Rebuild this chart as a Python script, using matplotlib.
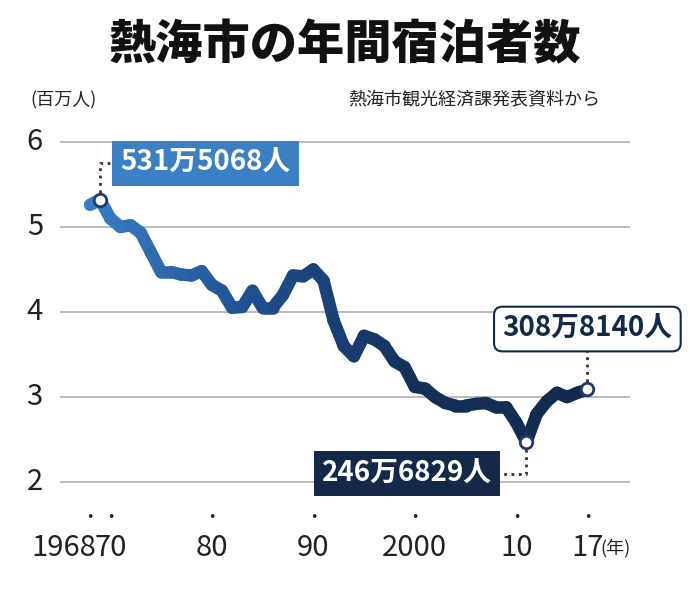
import numpy as np
import matplotlib
matplotlib.use("Agg")
import matplotlib.pyplot as plt
from matplotlib.collections import LineCollection
from matplotlib.colors import LinearSegmentedColormap
import matplotlib.transforms as mt

years = list(range(1968, 2018))
values = [5.26, 5.32, 5.10, 5.00, 5.02, 4.93, 4.70, 4.47, 4.47, 4.44, 4.43, 4.48,
          4.32, 4.25, 4.05, 4.06, 4.25, 4.05, 4.05, 4.20, 4.43, 4.42, 4.50, 4.37,
          3.90, 3.60, 3.48, 3.72, 3.68, 3.60, 3.42, 3.35, 3.12, 3.10, 3.00, 2.93,
          2.90, 2.90, 2.92, 2.93, 2.88, 2.88, 2.70, 2.47, 2.80, 2.95, 3.05, 3.00,
          3.05, 3.09]
yticks = [2, 3, 4, 5, 6]
xtick_pos = [1968, 1970, 1980, 1990, 2000, 2010, 2017]
xtick_lab = ["1968", "70", "80", "90", "2000", "10", "17"]

FONT = "Noto Sans CJK JP"
NUM = ["Liberation Sans Narrow", "Noto Sans CJK JP"]
W, H = 690, 596
fig = plt.figure(figsize=(W/100, H/100), dpi=100)
ax = fig.add_axes([60/W, 1-500/H, 570/W, 370/H])
ax.set_xlim(1965.04, 2021.2)
ax.set_ylim(1.79, 6.14)
for s in ax.spines.values():
    s.set_visible(False)
ax.set_xticks([]); ax.set_yticks([])
for y in yticks:
    ax.axhline(y, color="#b0b0b0", lw=1.2, zorder=0)
    ax.text(-0.03, y, str(y), transform=mt.blended_transform_factory(ax.transAxes, ax.transData),
            ha="right", va="center", fontsize=21, family=NUM, color="#222")

x = np.array(years, float); yv = np.array(values)
pts = np.array([x, yv]).T.reshape(-1, 1, 2)
segs = np.concatenate([pts[:-1], pts[1:]], axis=1)
cmap = LinearSegmentedColormap.from_list("g", ["#3a7cc4", "#1f4f8f", "#14305a", "#122a4e"])
lc = LineCollection(segs, cmap=cmap, linewidths=9, capstyle="round", joinstyle="round", zorder=2)
lc.set_array(np.linspace(0, 1, len(segs)))
ax.add_collection(lc)

tr = mt.blended_transform_factory(ax.transData, fig.transFigure)
for p, l in zip(xtick_pos, xtick_lab):
    ax.text(p, 1-518/H, "•", transform=tr, ha="center", va="center", fontsize=9, color="#222")
    if l == "1968":
        ax.text(p + 0.6, 1-548/H, l, transform=tr, ha="right", va="center", fontsize=21, family=NUM, color="#222")
    else:
        ax.text(p, 1-548/H, l, transform=tr, ha="center", va="center", fontsize=21, family=NUM, color="#222")
ax.text(2018.3, 1-548/H, "(年)", transform=tr, ha="left", va="center", fontsize=13, family=FONT, color="#222")

def mark(i):
    ax.plot(years[i], values[i], "o", ms=9, mfc="white", mec="#1f3d6a", mew=2, zorder=4)

i = years.index(1969)
ax.plot([1969, 1969, 1970.5], [values[i], 5.75, 5.75], ls=":", color="#333", lw=2, zorder=1)
mark(i)
ax.text(1971, 5.75, "531万5068人", ha="left", va="center", fontsize=20, family=FONT, weight="bold",
        color="white", bbox=dict(boxstyle="square,pad=0.3", fc="#3b7fc4", ec="none"), zorder=5)
i = years.index(2011)
ax.plot([2011, 2011, 2008.5], [values[i], 2.1, 2.1], ls=":", color="#333", lw=2, zorder=1)
mark(i)
ax.text(2007.6, 2.1, "246万6829人", ha="right", va="center", fontsize=20, family=FONT, weight="bold",
        color="white", bbox=dict(boxstyle="square,pad=0.3", fc="#14284a", ec="none"), zorder=5)
i = years.index(2017)
ax.plot([2017, 2017], [values[i], 3.55], ls=":", color="#333", lw=2, zorder=1)
mark(i)
ax.text(2017, 3.8, "308万8140人", ha="center", va="center", fontsize=20, family=FONT, weight="bold",
        color="#14284a", bbox=dict(boxstyle="round,pad=0.3,rounding_size=0.3", fc="white", ec="#14284a", lw=1.5), zorder=5)

fig.text(0.5, 1-45/H, "熱海市の年間宿泊者数", ha="center", va="center", fontsize=34,
         family=FONT, weight="black", color="#111")
fig.text(30/W, 1-100/H, "(百万人)", ha="left", va="center", fontsize=13, family=FONT, color="#222")
fig.text(600/W, 1-100/H, "熱海市観光経済課発表資料から", ha="right", va="center", fontsize=13, family=FONT, color="#222")
fig.savefig("out.png", dpi=100, facecolor="white")
